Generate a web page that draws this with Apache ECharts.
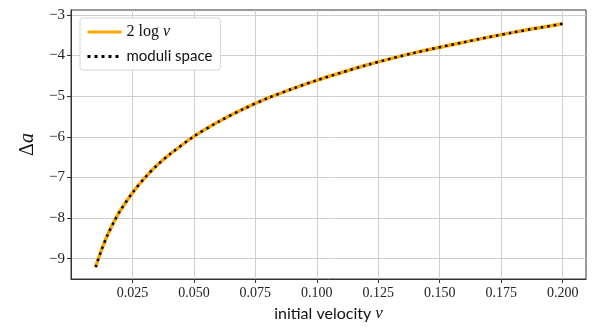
<!DOCTYPE html>
<html>
<head>
<meta charset="utf-8">
<script src="https://cdn.jsdelivr.net/npm/echarts@6/dist/echarts.min.js"></script>
<style>
  html, body { margin: 0; padding: 0; background: #fff; }
  #chart { width: 598px; height: 329px; }
</style>
</head>
<body>
<div id="chart"></div>
<script>
// values
var velocity = [0.01, 0.0125, 0.015, 0.0175, 0.02, 0.025, 0.03, 0.035, 0.04, 0.05,
                0.06, 0.07, 0.08, 0.09, 0.1, 0.12, 0.14, 0.16, 0.18, 0.2];
var twoLogV = [-9.21, -8.77, -8.40, -8.09, -7.82, -7.38, -7.01, -6.70, -6.44, -5.99,
               -5.63, -5.32, -5.05, -4.82, -4.61, -4.24, -3.93, -3.67, -3.43, -3.22];
var moduliSpace = [-9.21, -8.77, -8.40, -8.09, -7.82, -7.38, -7.01, -6.70, -6.44, -5.99,
                   -5.63, -5.32, -5.05, -4.82, -4.61, -4.24, -3.93, -3.67, -3.43, -3.22];
var xTicks = [0.025, 0.05, 0.075, 0.1, 0.125, 0.15, 0.175, 0.2];
var yTicks = [-9, -8, -7, -6, -5, -4, -3];

function pairs(xs, ys) {
    return xs.map(function (x, i) { return [x, ys[i]]; });
}

var serif = '"Liberation Serif", "DejaVu Serif", serif';
var sans = 'Lato, "DejaVu Sans", sans-serif';
var gridColor = '#cfcfcf';

var chart = echarts.init(document.getElementById('chart'), null, { renderer: 'canvas' });
chart.setOption({
    animation: false,
    grid: {
        left: 71, right: 12, top: 10, bottom: 50,
        show: true, borderColor: '#333', borderWidth: 1, backgroundColor: 'transparent'
    },
    legend: {
        left: 80, top: 18,
        orient: 'vertical',
        padding: [6, 8, 6, 6],
        itemGap: 9,
        itemWidth: 34, itemHeight: 12,
        backgroundColor: '#fff',
        borderColor: '#d6d6d6', borderWidth: 1, borderRadius: 3,
        itemStyle: { opacity: 0 },
        textStyle: {
            fontFamily: sans, fontSize: 15, color: '#111',
            rich: {
                m: { fontFamily: serif, fontSize: 16, color: '#111' },
                i: { fontFamily: serif, fontSize: 16, fontStyle: 'italic', color: '#111' }
            }
        },
        formatter: function (name) {
            if (name === '2 log v') return '{m|2 log }{i|v}';
            return name;
        },
        data: [
            { name: '2 log v', lineStyle: { width: 3 } },
            { name: 'moduli space', lineStyle: { width: 3, type: [3, 4] } }
        ]
    },
    xAxis: {
        type: 'value',
        min: 0, max: 0.2095,
        name: 'initial velocity {i|v}',
        nameLocation: 'middle',
        nameGap: 22,
        nameTextStyle: {
            fontFamily: sans, fontSize: 16, color: '#111',
            rich: { i: { fontFamily: serif, fontSize: 17, fontStyle: 'italic', color: '#111' } }
        },
        axisLine: { show: true, lineStyle: { color: '#333' } },
        axisTick: { show: true, customValues: xTicks, length: 4, lineStyle: { color: '#333' } },
        axisLabel: {
            customValues: xTicks, margin: 7,
            fontFamily: serif, fontSize: 14, color: '#222',
            formatter: function (v) { return v.toFixed(3); }
        },
        splitLine: { show: true, customValues: xTicks, lineStyle: { color: gridColor, width: 1 } }
    },
    yAxis: {
        type: 'value',
        min: -9.5, max: -2.88,
        name: '{d|Δ}{i|a}',
        nameLocation: 'middle',
        nameGap: 25,
        nameRotate: 90,
        nameTextStyle: {
            rich: {
                d: { fontFamily: serif, fontSize: 20, color: '#111' },
                i: { fontFamily: serif, fontSize: 20, fontStyle: 'italic', color: '#111' }
            }
        },
        axisLine: { show: true, lineStyle: { color: '#333' } },
        axisTick: { show: true, customValues: yTicks, length: 4, lineStyle: { color: '#333' } },
        axisLabel: {
            customValues: yTicks, margin: 6,
            fontFamily: serif, fontSize: 15, color: '#222',
            formatter: function (v) { return String(v).replace('-', '\u2212'); }
        },
        splitLine: { show: true, customValues: yTicks, lineStyle: { color: gridColor, width: 1 } }
    },
    series: [
        {
            name: '2 log v',
            type: 'line',
            data: pairs(velocity, twoLogV),
            smooth: 0.3,
            symbol: 'none',
            color: '#ffa500',
            lineStyle: { color: '#ffa500', width: 3.5 },
            z: 2
        },
        {
            name: 'moduli space',
            type: 'line',
            data: pairs(velocity, moduliSpace),
            smooth: 0.3,
            symbol: 'none',
            color: '#000',
            lineStyle: { color: '#000', width: 2.5, type: [2.5, 4], cap: 'butt' },
            z: 3
        }
    ]
});
</script>
</body>
</html>
